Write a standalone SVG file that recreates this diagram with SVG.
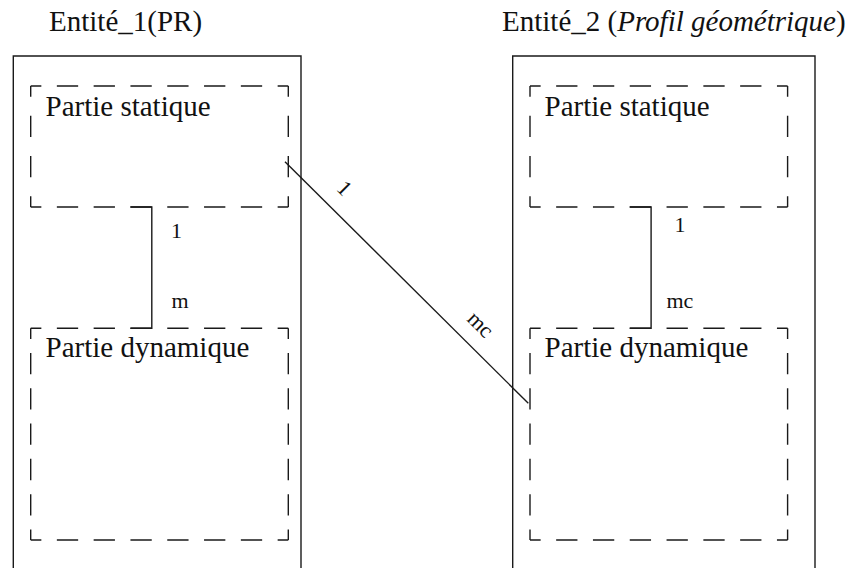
<svg xmlns="http://www.w3.org/2000/svg" width="848" height="568" viewBox="0 0 848 568">
  <style>
    .bg { fill: #ffffff; }
    .frame { fill: none; stroke: #1a1a1a; stroke-width: 1.4; }
    .dash { fill: none; stroke: #1a1a1a; stroke-width: 1.4; stroke-dashoffset: 10.65; }
    .dh { stroke-dasharray: 21.3 15.5; }
    .dvs { stroke-dasharray: 21.3 19; }
    .dvd { stroke-dasharray: 21.3 14; }
    .link { fill: none; stroke: #1a1a1a; stroke-width: 1.4; }
    .big { font-family: "Liberation Serif", "Times New Roman", serif; font-size: 29px; fill: #111; }
    .small { font-family: "Liberation Serif", "Times New Roman", serif; font-size: 22px; fill: #111; }
    .it { font-style: italic; }
  </style>
  <defs>
    <!-- dashed compartment, drawn side by side so each side starts and ends on a half dash -->
    <g id="staticBox">
      <line class="dash dh" x1="0" y1="0" x2="257.6" y2="0"/>
      <line class="dash dh" x1="0" y1="121" x2="257.6" y2="121"/>
      <line class="dash dvs" x1="0" y1="0" x2="0" y2="121"/>
      <line class="dash dvs" x1="257.6" y1="0" x2="257.6" y2="121"/>
    </g>
    <g id="dynamicBox">
      <line class="dash dh" x1="0" y1="0" x2="257.6" y2="0"/>
      <line class="dash dh" x1="0" y1="211.7" x2="257.6" y2="211.7"/>
      <line class="dash dvd" x1="0" y1="0" x2="0" y2="211.7"/>
      <line class="dash dvd" x1="257.6" y1="0" x2="257.6" y2="211.7"/>
    </g>
  </defs>

  <rect class="bg" x="0" y="0" width="848" height="568"/>

  <!-- entity 1 -->
  <g id="entite1">
    <text class="big" x="49" y="31">Entité_1(PR)</text>
    <path class="frame" d="M13.3,575 V56 H301 V575"/>
  </g>
  <g id="entite1-statique">
    <use href="#staticBox" x="30.7" y="86"/>
    <text class="big" x="45.5" y="116">Partie statique</text>
  </g>
  <g id="entite1-dynamique">
    <use href="#dynamicBox" x="30.7" y="328.3"/>
    <text class="big" x="45.5" y="357">Partie dynamique</text>
  </g>

  <!-- entity 2 -->
  <g id="entite2">
    <text class="big" x="502" y="31">Entité_2 (<tspan class="it">Profil géométrique</tspan>)</text>
    <path class="frame" d="M512.7,575 V56 H815 V575"/>
  </g>
  <g id="entite2-statique">
    <use href="#staticBox" x="530" y="86"/>
    <text class="big" x="544.5" y="116">Partie statique</text>
  </g>
  <g id="entite2-dynamique">
    <use href="#dynamicBox" x="530" y="328.3"/>
    <text class="big" x="544.5" y="357">Partie dynamique</text>
  </g>

  <!-- connectors with their cardinalities -->
  <g id="connectors">
    <path class="link" d="M130.4,207 H151.8 V328.3 H130.4"/>
    <text class="small" x="171" y="238">1</text>
    <text class="small" x="171.4" y="308">m</text>

    <path class="link" d="M629.7,207 H651.1 V328.3 H629.7"/>
    <text class="small" x="674.4" y="231.7">1</text>
    <text class="small" x="666.5" y="307.7">mc</text>

    <line class="link" x1="285" y1="161.7" x2="528.3" y2="403.3"/>
    <text class="small" transform="translate(335.5,189.4) rotate(45)">1</text>
    <text class="small" transform="translate(466,320) rotate(45)">mc</text>
  </g>
</svg>
